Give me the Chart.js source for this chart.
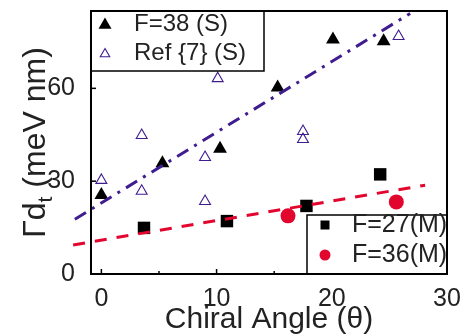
<!DOCTYPE html>
<html>
<head>
<meta charset="utf-8">
<script src="https://cdn.jsdelivr.net/npm/chart.js@4.4.0/dist/chart.umd.min.js"></script>
<style>
    html, body { margin: 0; padding: 0; background: #fff; }
    #wrap { width: 462px; height: 335px; }
</style>
</head>
<body>
<div id="wrap"><canvas id="gammaChart" width="462" height="335"></canvas></div>
<script>
// Data
const f38S = [
    { x: 0, y: 25.5 }, { x: 5.3, y: 35.8 }, { x: 10.3, y: 40.5 },
    { x: 15.3, y: 60.3 }, { x: 20.1, y: 75.8 }, { x: 24.5, y: 75.2 }
];
const ref7S = [
    { x: 0, y: 30.3 }, { x: 3.5, y: 26.8 }, { x: 3.5, y: 44.8 },
    { x: 9.0, y: 37.7 }, { x: 9.0, y: 23.5 }, { x: 10.1, y: 63.2 },
    { x: 17.5, y: 46.1 }, { x: 17.5, y: 43.5 }, { x: 25.8, y: 76.8 }
];
const f27M = [
    { x: 3.7, y: 14.9 }, { x: 10.9, y: 17.1 }, { x: 17.8, y: 22.0 }, { x: 24.2, y: 32.2 }
];
const f36M = [
    { x: 16.2, y: 18.8 }, { x: 25.6, y: 23.3 }
];
const fitS = [{ x: -2.3, y: 17.7 }, { x: 26.8, y: 84.2 }];
const fitM = [{ x: -2.45, y: 9.4 }, { x: 28.1, y: 28.7 }];

const xTicks = [0, 10, 20, 30];
const xMinorTicks = [5, 15, 25];
const yTicks = [0, 30, 60];

const FONT = '"Liberation Sans", Arial, sans-serif';
const TEXT = '#222';
const BLUE = '#3f1d8f';
const RED = '#e2062f';

function drawMarker(ctx, style, x, y, r, fill, stroke, lw) {
    ctx.save();
    ctx.beginPath();
    if (style === 'triangle') {
        ctx.moveTo(x, y - r);
        ctx.lineTo(x + r * 0.866, y + r * 0.5);
        ctx.lineTo(x - r * 0.866, y + r * 0.5);
        ctx.closePath();
    } else if (style === 'rect') {
        ctx.rect(x - r, y - r, 2 * r, 2 * r);
    } else {
        ctx.arc(x, y, r, 0, Math.PI * 2);
    }
    if (fill) { ctx.fillStyle = fill; ctx.fill(); }
    if (stroke) { ctx.strokeStyle = stroke; ctx.lineWidth = lw; ctx.stroke(); }
    ctx.restore();
}

// Frame, inward ticks, legends and the y title
const decorations = {
    id: 'decorations',
    afterDatasetsDraw(chart) {
        const ctx = chart.ctx;
        const a = chart.chartArea;
        const xs = chart.scales.x;
        const ys = chart.scales.y;

        ctx.save();
        ctx.strokeStyle = '#000';
        ctx.lineWidth = 1.5;
        xTicks.forEach(v => {
            const px = xs.getPixelForValue(v);
            ctx.beginPath(); ctx.moveTo(px, a.bottom); ctx.lineTo(px, a.bottom - 5); ctx.stroke();
        });
        xMinorTicks.forEach(v => {
            const px = xs.getPixelForValue(v);
            ctx.beginPath(); ctx.moveTo(px, a.bottom); ctx.lineTo(px, a.bottom - 3); ctx.stroke();
        });
        yTicks.forEach(v => {
            const py = ys.getPixelForValue(v);
            ctx.beginPath(); ctx.moveTo(a.left, py); ctx.lineTo(a.left + 5, py); ctx.stroke();
        });

        // legend top-left
        ctx.fillStyle = '#fff';
        ctx.fillRect(a.left, a.top, 173, 60);
        ctx.lineWidth = 1.5;
        ctx.strokeRect(a.left, a.top, 173, 60);
        drawMarker(ctx, 'triangle', a.left + 14, a.top + 14, 7.5, '#000');
        drawMarker(ctx, 'triangle', a.left + 14, a.top + 43, 5.5, null, BLUE, 1.1);
        ctx.fillStyle = TEXT;
        ctx.font = '24px ' + FONT;
        ctx.textBaseline = 'middle';
        ctx.textAlign = 'left';
        ctx.fillText('F=38 (S)', a.left + 43, a.top + 13);
        ctx.fillText('Ref {7} (S)', a.left + 43, a.top + 42);

        // legend bottom-right
        const bx = a.right - 140, by = a.bottom - 59;
        ctx.fillStyle = '#fff';
        ctx.fillRect(bx, by, 140, 59);
        ctx.strokeStyle = '#000';
        ctx.strokeRect(bx, by, 140, 59);
        drawMarker(ctx, 'rect', bx + 18, by + 10, 4.5, '#000');
        drawMarker(ctx, 'circle', bx + 18, by + 40, 5.5, RED);
        ctx.fillStyle = TEXT;
        ctx.font = '25px ' + FONT;
        ctx.fillText('F=27(M)', bx + 45, by + 10);
        ctx.fillText('F=36(M)', bx + 45, by + 40);

        // frame
        ctx.strokeStyle = '#000';
        ctx.lineWidth = 2;
        ctx.strokeRect(a.left, a.top, a.right - a.left, a.bottom - a.top);

        // y title with subscript
        const big = '32px ' + FONT, small = '21px ' + FONT;
        ctx.font = big;
        const w1 = ctx.measureText('\u0393d').width;
        const w3 = ctx.measureText(' (meV nm)').width;
        ctx.font = small;
        const w2 = ctx.measureText('t').width;
        const total = w1 + w2 + w3;
        ctx.translate(45, (a.top + a.bottom) / 2);
        ctx.rotate(-Math.PI / 2);
        ctx.textBaseline = 'alphabetic';
        ctx.fillStyle = TEXT;
        let cx = -total / 2;
        ctx.font = big;
        ctx.fillText('\u0393d', cx, 0);
        cx += w1;
        ctx.font = small;
        ctx.fillText('t', cx, 7);
        cx += w2;
        ctx.font = big;
        ctx.fillText(' (meV nm)', cx, 0);
        ctx.restore();
    }
};

document.addEventListener('DOMContentLoaded', function() {
    const ctx = document.getElementById('gammaChart').getContext('2d');
    new Chart(ctx, {
        type: 'scatter',
        data: {
            datasets: [
                {
                    label: 'fit S',
                    data: fitS,
                    showLine: true,
                    pointRadius: 0,
                    borderColor: BLUE,
                    borderWidth: 3,
                    borderDash: [13, 7, 3, 7],
                    clip: false
                },
                {
                    label: 'fit M',
                    data: fitM,
                    showLine: true,
                    pointRadius: 0,
                    borderColor: RED,
                    borderWidth: 3,
                    borderDash: [12, 10],
                    clip: false
                },
                {
                    label: 'F=38 (S)',
                    data: f38S,
                    pointStyle: 'triangle',
                    pointRadius: 8,
                    backgroundColor: '#000',
                    borderColor: '#000',
                    borderWidth: 0
                },
                {
                    label: 'Ref {7} (S)',
                    data: ref7S,
                    pointStyle: 'triangle',
                    pointRadius: 6.3,
                    backgroundColor: 'rgba(0,0,0,0)',
                    borderColor: BLUE,
                    borderWidth: 1.1
                },
                {
                    label: 'F=27(M)',
                    data: f27M,
                    pointStyle: 'rect',
                    pointRadius: 8.8,
                    backgroundColor: '#000',
                    borderColor: '#000',
                    borderWidth: 0
                },
                {
                    label: 'F=36(M)',
                    data: f36M,
                    pointStyle: 'circle',
                    pointRadius: 7.5,
                    backgroundColor: RED,
                    borderColor: RED,
                    borderWidth: 0
                }
            ]
        },
        options: {
            responsive: false,
            animation: false,
            layout: { padding: { top: 11, right: 15, left: 0, bottom: 0 } },
            plugins: {
                legend: { display: false },
                tooltip: { enabled: false }
            },
            scales: {
                x: {
                    type: 'linear',
                    min: -0.9,
                    max: 30,
                    afterBuildTicks: s => { s.ticks = xTicks.map(v => ({ value: v })); },
                    afterFit: s => { s.height = 61; s.paddingLeft = 0; s.paddingRight = 0; },
                    grid: { display: false },
                    border: { display: false },
                    ticks: { color: TEXT, font: { family: FONT, size: 25 }, padding: 2, maxRotation: 0 },
                    title: {
                        display: true,
                        text: 'Chiral Angle (\u03b8)',
                        color: TEXT,
                        font: { family: FONT, size: 30, lineHeight: 1 },
                        padding: 0
                    }
                },
                y: {
                    min: 0,
                    max: 85,
                    afterBuildTicks: s => { s.ticks = yTicks.map(v => ({ value: v })); },
                    afterFit: s => { s.width = 91; s.paddingTop = 0; s.paddingBottom = 0; },
                    grid: { display: false },
                    border: { display: false },
                    ticks: { color: TEXT, font: { family: FONT, size: 25 }, padding: 8 }
                }
            }
        },
        plugins: [decorations]
    });
});
</script>
</body>
</html>
